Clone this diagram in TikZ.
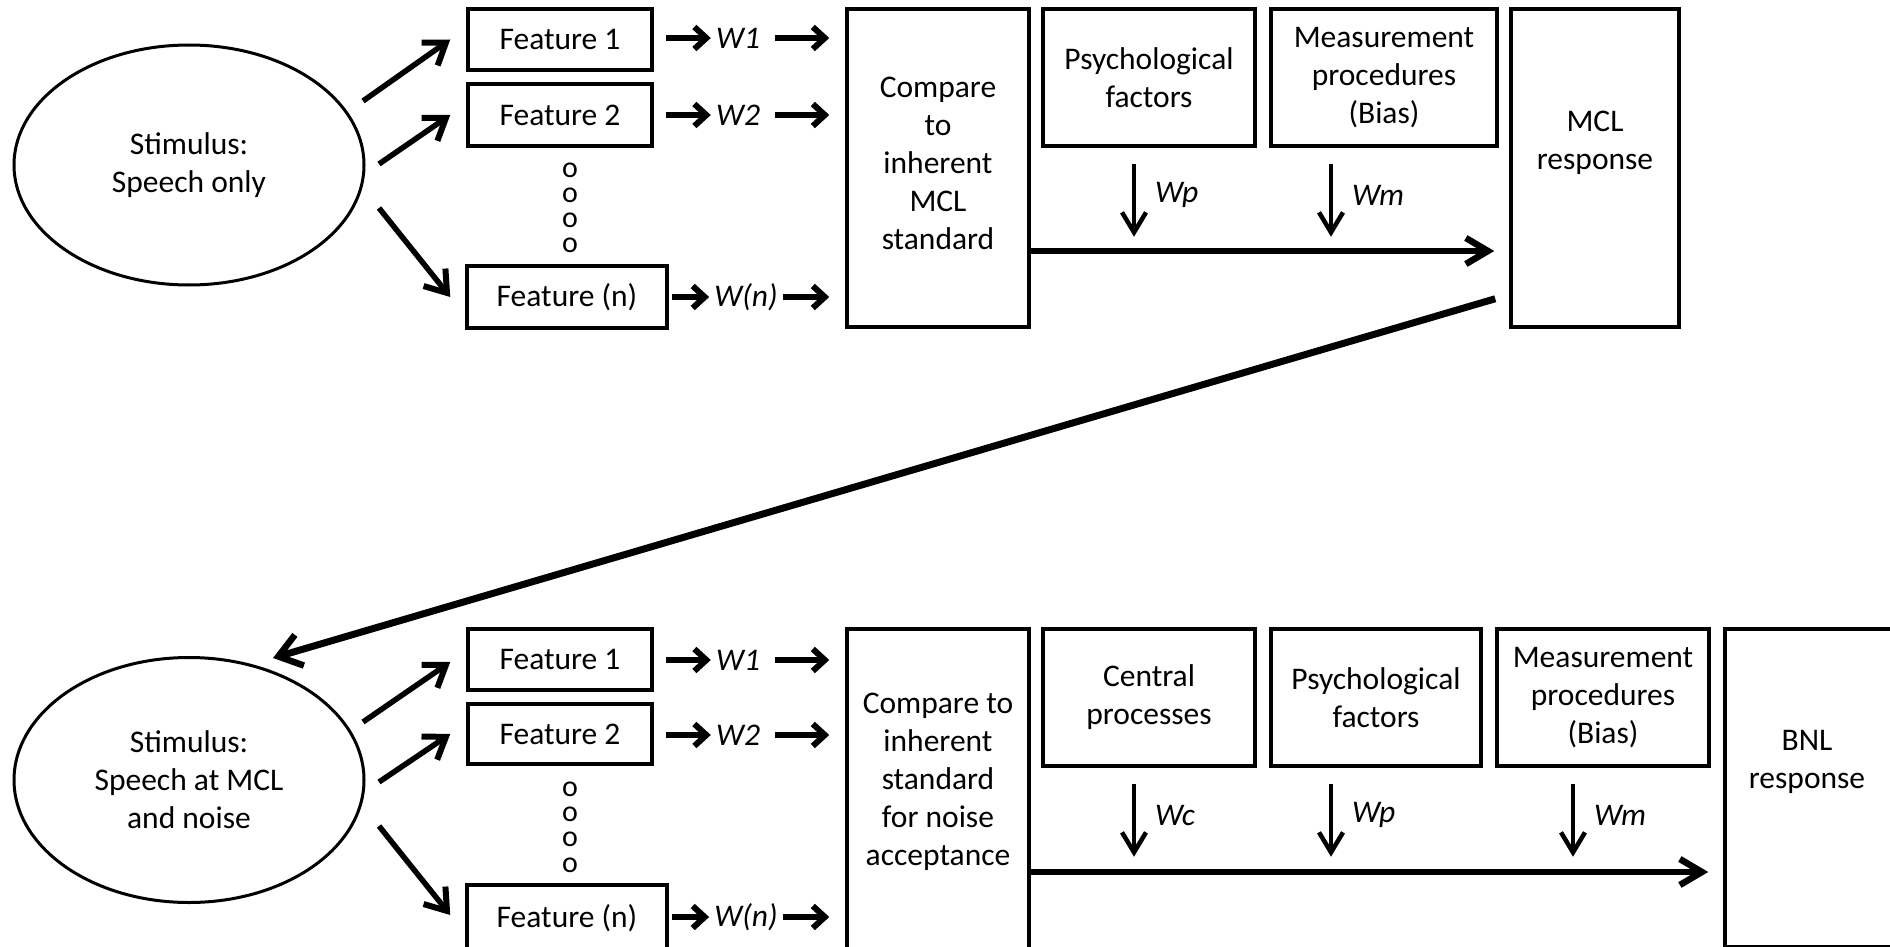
\documentclass[tikz,border=0pt]{standalone}
\usepackage{fontspec}
\setmainfont{Carlito}
\usetikzlibrary{arrows.meta,shapes.geometric,calc}
\begin{document}
\begin{tikzpicture}[x=1pt,y=-1pt,
  txt/.style={font=\fontsize{31.5}{38}\selectfont, align=center, inner sep=0pt},
  wlab/.style={font=\fontsize{31.5}{38}\selectfont\itshape, inner sep=5pt},
  ell/.style={draw, ellipse, line width=3pt, inner sep=0pt, align=center, font=\fontsize{31.5}{38}\selectfont},
  box/.style={draw, line width=3.5pt, inner sep=0pt, align=center, font=\fontsize{31.5}{38}\selectfont},
  dot/.style={font=\fontsize{30}{30}\selectfont, inner sep=0pt},
  sarr/.style={line width=6pt, -{Straight Barb[length=12pt,width=22pt,line width=6pt]}},
  earr/.style={line width=5.5pt, -{Straight Barb[length=20pt,width=28pt,line width=6pt]}},
  varr/.style={line width=4pt, -{Straight Barb[length=20pt,width=24pt,line width=4.5pt]}},
  harr/.style={line width=6.5pt, -{Straight Barb[length=22pt,width=26pt,line width=6.5pt]}},
  darr/.style={line width=7pt, -{Straight Barb[length=22pt,width=32pt,line width=6.5pt]}}
]
\fill[white] (0,0) rectangle (1890,947);
\useasboundingbox (0,0) rectangle (1890,947);

% ---------- top row ----------
\node[ell, minimum width=350pt, minimum height=240pt] (st1) at (189,165) {Stimulus:\\Speech only};
\node[box, minimum width=184pt, minimum height=61pt] (f1) at (560,39.5) {Feature 1};
\node[box, minimum width=184pt, minimum height=62pt] (f2) at (560,115) {Feature 2};
\node[dot] (d1a) at (570,170) {o};
\node[dot] (d1b) at (570,195) {o};
\node[dot] (d1c) at (570,220) {o};
\node[dot] (d1d) at (570,245) {o};
\node[box, minimum width=200pt, minimum height=62pt] (f3) at (567,297) {Feature (n)};
\node[box, minimum width=182pt, minimum height=318pt] (cmp1) at (938,168) {};
\node[txt] (cmp1txt) at (938,163) {Compare\\to\\inherent\\MCL\\standard};
\node[box, minimum width=212pt, minimum height=137pt] (psy1) at (1149,77.5) {Psychological\\factors};
\node[box, minimum width=226pt, minimum height=137pt] (mea1) at (1384,77.5) {Measurement\\procedures\\(Bias)};
\node[box, minimum width=168pt, minimum height=318pt] (mcl) at (1595,168) {};
\node[txt] (mcltxt) at (1595,143) {MCL\\response};

\node[wlab] (w1) at (738,38) {W1};
\node[wlab] (w2) at (738,115) {W2};
\node[wlab] (w3) at (746,297) {W(n)};

\draw[earr] ($(st1.center)+(174,-64)$) -- ([xshift=-16pt]f1.west);
\draw[earr] ($(st1.center)+(190,-1)$) -- ([xshift=-16pt]f2.west);
\draw[earr] ($(st1.center)+(190,43)$) -- ([xshift=-15pt]f3.west);

\draw[sarr] ([xshift=12pt]f1.east |- w1) -- (w1.west);
\draw[sarr] ([xshift=12pt]f2.east |- w2) -- (w2.west);
\draw[sarr] ([xshift=3pt]f3.east |- w3) -- (w3.west);
\draw[sarr] ([xshift=10pt]w1.east) -- ([xshift=-16pt]cmp1.west |- w1);
\draw[sarr] ([xshift=10pt]w2.east) -- ([xshift=-16pt]cmp1.west |- w2);
\draw[sarr] (w3.east) -- ([xshift=-16pt]cmp1.west |- w3);

\draw[varr] ($(psy1.south)+(-15,16)$) -- ++(0,73) node[wlab, midway, anchor=west, xshift=14pt, yshift=5pt] (wp1) {Wp};
\draw[varr] ($(mea1.south)+(-53,16)$) -- ++(0,73) node[wlab, midway, anchor=west, xshift=14pt, yshift=5pt] (wm1) {Wm};

\coordinate (h1) at (0,251);
\draw[harr] (cmp1.east |- h1) -- ([xshift=-15pt]mcl.west |- h1);

% ---------- bottom row ----------
\node[ell, minimum width=350pt, minimum height=245pt] (st2) at (189,780) {Stimulus:\\Speech at MCL\\and noise};
\node[box, minimum width=184pt, minimum height=61pt] (f4) at (560,659.5) {Feature 1};
\node[box, minimum width=184pt, minimum height=60pt] (f5) at (560,734) {Feature 2};
\node[dot] (d2a) at (570,789) {o};
\node[dot] (d2b) at (570,814) {o};
\node[dot] (d2c) at (570,839) {o};
\node[dot] (d2d) at (570,865) {o};
\node[box, minimum width=200pt, minimum height=67pt] (f6) at (567,918.5) {Feature (n)};
\node[box, minimum width=182pt, minimum height=326pt] (cmp2) at (938,792) {};
\node[txt] (cmp2txt) at (938,782) {Compare to\\inherent\\standard\\for noise\\acceptance};
\node[box, minimum width=212pt, minimum height=137pt] (cen) at (1149,697.5) {Central\\processes};
\node[box, minimum width=210pt, minimum height=137pt] (psy2) at (1376,697.5) {Psychological\\factors};
\node[box, minimum width=212pt, minimum height=137pt] (mea2) at (1603,697.5) {Measurement\\procedures\\(Bias)};
\node[box, minimum width=170pt, minimum height=318pt] (bnl) at (1810,788) {};
\node[txt] (bnltxt) at (1807,762) {BNL\\response};

\node[wlab] (w4) at (738,660) {W1};
\node[wlab] (w5) at (738,735) {W2};
\node[wlab] (w6) at (746,917) {W(n)};

\draw[earr] ($(st2.center)+(174,-58)$) -- ([xshift=-16pt]f4.west |- 0,662);
\draw[earr] ($(st2.center)+(190,2)$) -- ([xshift=-16pt]f5.west);
\draw[earr] ($(st2.center)+(190,46)$) -- ([xshift=-15pt]f6.west |- 0,915);

\draw[sarr] ([xshift=12pt]f4.east |- w4) -- (w4.west);
\draw[sarr] ([xshift=12pt]f5.east |- w5) -- (w5.west);
\draw[sarr] ([xshift=3pt]f6.east |- w6) -- (w6.west);
\draw[sarr] ([xshift=10pt]w4.east) -- ([xshift=-16pt]cmp2.west |- w4);
\draw[sarr] ([xshift=10pt]w5.east) -- ([xshift=-16pt]cmp2.west |- w5);
\draw[sarr] (w6.east) -- ([xshift=-16pt]cmp2.west |- w6);

\draw[varr] ($(cen.south)+(-15,16)$) -- ++(0,73) node[wlab, midway, anchor=west, xshift=14pt, yshift=5pt] (wc2) {Wc};
\draw[varr] ($(psy2.south)+(-45,16)$) -- ++(0,73) node[wlab, midway, anchor=west, xshift=14pt, yshift=5pt] (wp2) {Wp};
\draw[varr] ($(mea2.south)+(-30,16)$) -- ++(0,73) node[wlab, midway, anchor=west, xshift=14pt, yshift=5pt] (wm2) {Wm};

\coordinate (h2) at (0,872);
\draw[harr] (cmp2.east |- h2) -- ([xshift=-15pt]bnl.west |- h2);

% ---------- feedback ----------
\draw[darr] ($(mcl.south west)+(-14,-30)$) -- ($(st2.center)+(84,-122)$);
\end{tikzpicture}
\end{document}
